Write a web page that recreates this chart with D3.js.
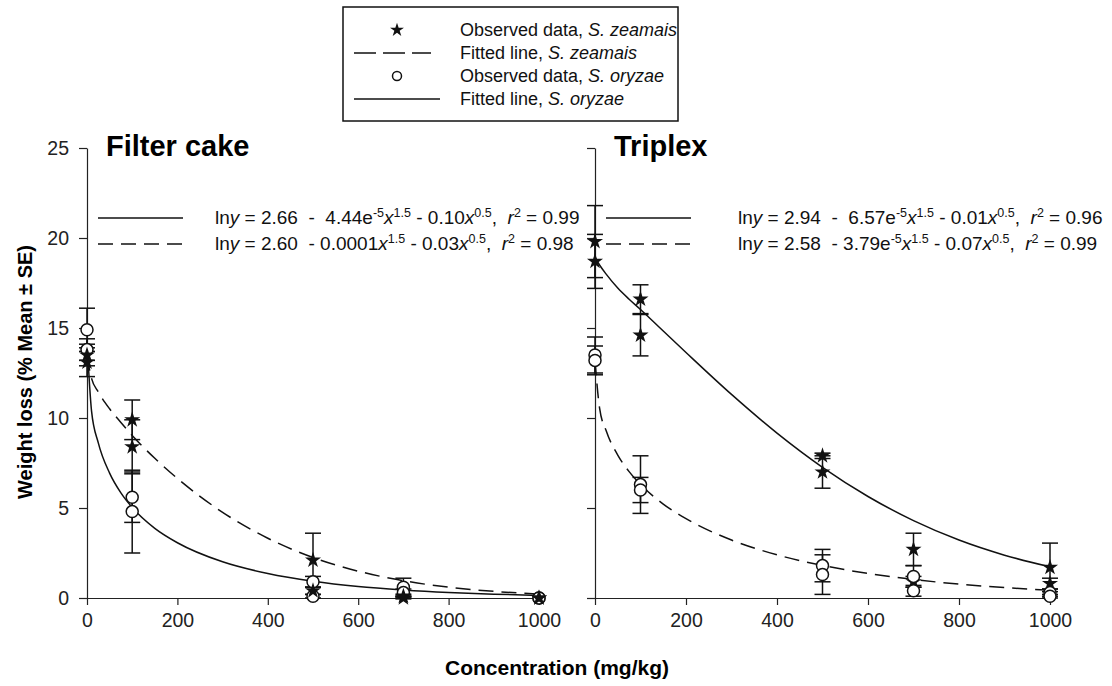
<!DOCTYPE html>
<html>
<head>
<meta charset="utf-8">
<script src="https://cdn.jsdelivr.net/npm/d3@7"></script>
<style>
  body { margin: 0; background: #fff; }
  svg { font-family: Arial, "Liberation Sans", sans-serif; }
  text { white-space: pre; }
</style>
</head>
<body>
<svg id="chart" width="1112" height="686"></svg>
<script>
// concentrations (mg/kg)
const concentrations = [0, 100, 500, 700, 1000];
const xTicks = [0, 200, 400, 600, 800, 1000];
const yTicks = [0, 5, 10, 15, 20, 25];

// Filter cake, observed data (two runs per species)
const fcZeaMean1 = [13.5, 9.9, 2.1, 0.1, 0.0];
const fcZeaSE1   = [0.6, 1.1, 1.5, 0.1, 0.0];
const fcZeaMean2 = [13.1, 8.4, 0.4, 0.0, 0.0];
const fcZeaSE2   = [0.8, 1.5, 0.2, 0.05, 0.0];
const fcOryMean1 = [14.9, 5.6, 0.9, 0.6, 0.0];
const fcOrySE1   = [1.2, 1.4, 0.3, 0.5, 0.0];
const fcOryMean2 = [13.8, 4.8, 0.1, 0.3, 0.0];
const fcOrySE2   = [0.6, 2.3, 0.1, 0.2, 0.0];

// Triplex, observed data
const trZeaMean1 = [19.8, 16.6, 7.9, 2.7, 1.7];
const trZeaSE1   = [2.0, 0.8, 0.15, 0.9, 1.35];
const trZeaMean2 = [18.7, 14.6, 7.0, 0.9, 0.8];
const trZeaSE2   = [1.5, 1.15, 0.9, 0.3, 0.3];
const trOryMean1 = [13.5, 6.3, 1.8, 1.2, 0.3];
const trOrySE1   = [1.0, 1.6, 0.9, 0.6, 0.2];
const trOryMean2 = [13.2, 6.0, 1.3, 0.4, 0.1];
const trOrySE2   = [0.8, 0.7, 1.1, 0.3, 0.1];

// fitted lines
const curveX = [0, 10, 25, 50, 75, 100, 150, 200, 300, 400, 500, 600, 700, 800, 900, 1000];
const fcSolidY  = [14.3, 10.4, 8.62, 6.94, 5.84, 5.03, 3.87, 3.07, 2.01, 1.36, 0.93, 0.64, 0.45, 0.31, 0.21, 0.15];
const fcDashedY = [13.46, 12.2, 11.45, 10.51, 9.75, 9.03, 7.76, 6.64, 4.76, 3.32, 2.25, 1.49, 0.96, 0.60, 0.37, 0.22];
const trSolidY  = [18.92, 18.5, 17.98, 17.22, 16.6, 16.03, 14.83, 13.64, 11.31, 9.16, 7.26, 5.64, 4.30, 3.22, 2.38, 1.73];
const trDashedY = [13.2, 10.56, 9.26, 7.94, 7.02, 6.31, 5.22, 4.41, 3.22, 2.40, 1.81, 1.36, 1.03, 0.77, 0.58, 0.435];

// equation labels
const fcEquations = [
  [["ln"], ["y", "i"], [" = 2.66  -  4.44e"], ["-5", "s"], ["x", "i"], ["1.5", "s"], [" - 0.10"], ["x", "i"], ["0.5", "s"], [",  "], ["r", "i"], ["2", "s"], [" = 0.99"]],
  [["ln"], ["y", "i"], [" = 2.60  - 0.0001"], ["x", "i"], ["1.5", "s"], [" - 0.03"], ["x", "i"], ["0.5", "s"], [",  "], ["r", "i"], ["2", "s"], [" = 0.98"]]
];
const trEquations = [
  [["ln"], ["y", "i"], [" = 2.94  -  6.57e"], ["-5", "s"], ["x", "i"], ["1.5", "s"], [" - 0.01"], ["x", "i"], ["0.5", "s"], [",  "], ["r", "i"], ["2", "s"], [" = 0.96"]],
  [["ln"], ["y", "i"], [" = 2.58  - 3.79e"], ["-5", "s"], ["x", "i"], ["1.5", "s"], [" - 0.07"], ["x", "i"], ["0.5", "s"], [",  "], ["r", "i"], ["2", "s"], [" = 0.99"]]
];

const svg = d3.select("#chart");
const dash = "15,8";

const y = d3.scaleLinear().domain([0, 25]).range([598, 148]);

function panel(x0, x1, title, solidY, dashedY, equations, eqX, series) {
  const x = d3.scaleLinear().domain([0, 1000]).range([x0, x1]);
  const g = svg.append("g");

  // axes
  const xa = g.append("g").attr("transform", "translate(0,598)")
    .call(d3.axisBottom(x).tickValues(xTicks).tickFormat(d3.format("d")).tickSize(7).tickSizeOuter(0).tickPadding(8));
  const ya = g.append("g").attr("transform", "translate(" + x0 + ",0)")
    .call(d3.axisLeft(y).tickValues(yTicks).tickSize(8).tickSizeOuter(0).tickPadding(10));
  [xa, ya].forEach(a => {
    a.select(".domain").attr("stroke", "#222").attr("stroke-width", 1.2);
    a.selectAll(".tick line").attr("stroke", "#222").attr("stroke-width", 1.2);
    a.selectAll("text").attr("font-size", 19.5).attr("fill", "#222").attr("font-family", "Arial, 'Liberation Sans', sans-serif");
  });
  if (x0 > 300) ya.selectAll("text").remove();

  g.append("text").attr("x", x0 + 19).attr("y", 156)
    .attr("font-size", 29).attr("font-weight", "bold").text(title);

  // fitted lines
  const line = d3.line().x((d, i) => x(curveX[i])).y(d => y(d)).curve(d3.curveMonotoneX);
  g.append("path").datum(solidY).attr("d", line)
    .attr("fill", "none").attr("stroke", "#111").attr("stroke-width", 1.5);
  g.append("path").datum(dashedY).attr("d", line)
    .attr("fill", "none").attr("stroke", "#111").attr("stroke-width", 1.5).attr("stroke-dasharray", dash);

  // equation key
  g.append("line").attr("x1", x0 + 11).attr("x2", x0 + 96).attr("y1", 218).attr("y2", 218)
    .attr("stroke", "#111").attr("stroke-width", 1.5);
  g.append("line").attr("x1", x0 + 11).attr("x2", x0 + 96).attr("y1", 244).attr("y2", 244)
    .attr("stroke", "#111").attr("stroke-width", 1.5).attr("stroke-dasharray", dash);
  equations.forEach((eq, k) => {
    const t = g.append("text").attr("x", eqX).attr("y", 224 + k * 26)
      .attr("font-size", 19).attr("fill", "#111");
    eq.forEach(p => {
      const s = t.append("tspan").text(p[0]);
      if (p[1] === "i") s.attr("font-style", "italic");
      if (p[1] === "s") s.attr("font-size", 12.5).attr("baseline-shift", "super");
    });
  });

  // error bars then markers
  series.forEach(sr => {
    const pts = concentrations.map((c, i) => ({ c: c, m: sr.mean[i], se: sr.se[i] }));
    const eb = g.append("g").attr("stroke", "#111").attr("stroke-width", 1.5);
    pts.filter(p => p.se > 0).forEach(p => {
      const cx = x(p.c);
      eb.append("line").attr("x1", cx).attr("x2", cx).attr("y1", y(p.m + p.se)).attr("y2", y(p.m - p.se));
      eb.append("line").attr("x1", cx - 8).attr("x2", cx + 8).attr("y1", y(p.m + p.se)).attr("y2", y(p.m + p.se));
      eb.append("line").attr("x1", cx - 8).attr("x2", cx + 8).attr("y1", y(p.m - p.se)).attr("y2", y(p.m - p.se));
    });
  });
  series.forEach(sr => {
    const pts = concentrations.map((c, i) => ({ c: c, m: sr.mean[i] }));
    if (sr.star) {
      g.append("g").selectAll("path").data(pts).enter().append("path")
        .attr("d", d3.symbol(d3.symbolStar, 80))
        .attr("transform", d => "translate(" + x(d.c) + "," + y(d.m) + ")")
        .attr("fill", "#111");
    } else {
      g.append("g").selectAll("circle").data(pts).enter().append("circle")
        .attr("cx", d => x(d.c)).attr("cy", d => y(d.m)).attr("r", 6)
        .attr("fill", "#fff").attr("stroke", "#111").attr("stroke-width", 1.5);
    }
  });
}

panel(87, 539, "Filter cake", fcSolidY, fcDashedY, fcEquations, 215, [
  { mean: fcOryMean1, se: fcOrySE1 }, { mean: fcOryMean2, se: fcOrySE2 },
  { mean: fcZeaMean1, se: fcZeaSE1, star: true }, { mean: fcZeaMean2, se: fcZeaSE2, star: true }
]);
panel(595, 1050, "Triplex", trSolidY, trDashedY, trEquations, 738, [
  { mean: trZeaMean1, se: trZeaSE1, star: true }, { mean: trZeaMean2, se: trZeaSE2, star: true },
  { mean: trOryMean1, se: trOrySE1 }, { mean: trOryMean2, se: trOrySE2 }
]);

// axis titles
svg.append("text").attr("transform", "translate(32,372) rotate(-90)")
  .attr("text-anchor", "middle").attr("font-size", 20).attr("font-weight", "bold")
  .text("Weight loss (% Mean ± SE)");
svg.append("text").attr("x", 557).attr("y", 675)
  .attr("text-anchor", "middle").attr("font-size", 21).attr("font-weight", "bold")
  .text("Concentration (mg/kg)");

// legend
const lg = svg.append("g");
lg.append("rect").attr("x", 343).attr("y", 7).attr("width", 335).attr("height", 114)
  .attr("fill", "#fff").attr("stroke", "#111").attr("stroke-width", 1.5);
const legendRows = [
  ["Observed data, ", "S. zeamais", "star"],
  ["Fitted line, ", "S. zeamais", "dashed"],
  ["Observed data, ", "S. oryzae", "circle"],
  ["Fitted line, ", "S. oryzae", "solid"]
];
legendRows.forEach((r, i) => {
  const cy = 30 + i * 23;
  if (r[2] === "star") {
    lg.append("path").attr("d", d3.symbol(d3.symbolStar, 60))
      .attr("transform", "translate(397," + cy + ")").attr("fill", "#111");
  } else if (r[2] === "circle") {
    lg.append("circle").attr("cx", 397).attr("cy", cy).attr("r", 4.5)
      .attr("fill", "#fff").attr("stroke", "#111").attr("stroke-width", 1.5);
  } else {
    lg.append("line").attr("x1", 354).attr("x2", r[2] === "dashed" ? 431 : 440)
      .attr("y1", cy).attr("y2", cy).attr("stroke", "#111").attr("stroke-width", 1.5)
      .attr("stroke-dasharray", r[2] === "dashed" ? "22,7" : null);
  }
  const t = lg.append("text").attr("x", 460).attr("y", cy + 6).attr("font-size", 18).attr("fill", "#111");
  t.append("tspan").text(r[0]);
  t.append("tspan").attr("font-style", "italic").text(r[1]);
});
</script>
</body>
</html>
